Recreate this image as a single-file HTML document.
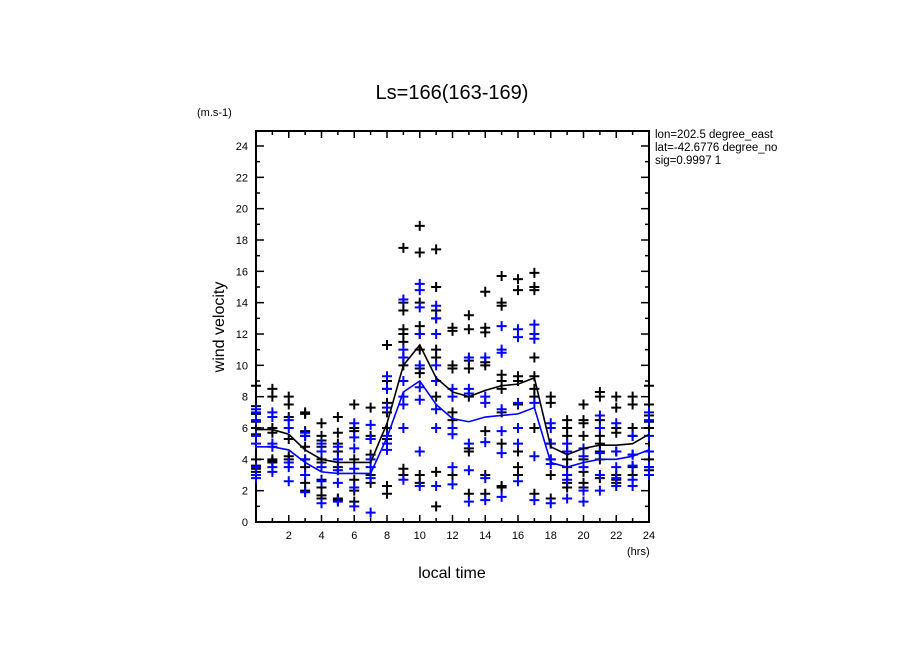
<!DOCTYPE html>
<html><head><meta charset="utf-8"><style>
body{margin:0;background:#fff;width:904px;height:654px;overflow:hidden}
svg{display:block;font-family:"Liberation Sans",sans-serif}
</style></head><body>
<svg id="chart" width="904" height="654">
<text x="452" y="99" text-anchor="middle" font-size="20">Ls=166(163-169)</text>
<text x="197" y="116" font-size="11">(m.s-1)</text>
<text x="224" y="327" font-size="16" text-anchor="middle" transform="rotate(-90 224 327)">wind velocity</text>
<text x="452" y="578" font-size="16" text-anchor="middle">local time</text>
<text x="627" y="555" font-size="11">(hrs)</text>
<svg x="655" y="126" width="123" height="50" overflow="hidden">
<text x="0" y="12" font-size="11.5">lon=202.5 degree_east</text>
<text x="0" y="25" font-size="11.5">lat=-42.6776 degree_north</text>
<text x="0" y="38" font-size="11.5">sig=0.9997 1</text>
</svg>
<g id="axes"></g><g id="marks"></g>
</svg>
<script>
const hours=[0,1,2,3,4,5,6,7,8,9,10,11,12,13,14,15,16,17,18,19,20,21,22,23,24];
const blackMean=[5.9,5.9,5.6,4.6,4.0,3.8,3.8,3.8,6.3,10.0,11.3,9.2,8.3,8.0,8.4,8.7,8.8,9.2,4.8,4.3,4.7,4.9,4.9,5.0,5.6];
const blueMean=[4.8,4.8,4.6,3.8,3.2,3.1,3.1,3.1,5.4,8.3,9.0,7.5,6.6,6.4,6.7,6.8,6.9,7.3,3.8,3.5,3.8,4.0,4.0,4.2,4.6];
const blackPts=[[8.7,7.4,6.9,6.4,6.0,5.6,4.0,3.6,3.4,3.2],[8.5,8.0,6.0,5.7,4.0,3.8,3.9],[8.0,7.5,6.7,5.3,4.2,4.0],[7.0,6.9,5.8,5.5,4.8,4.0,3.5,2.5,2.0],[6.3,5.5,5.2,4.8,4.0,3.8,2.7,2.2,1.7,1.5],[6.7,5.7,5.0,4.5,3.5,1.5,1.4],[7.5,6.0,5.8,4.0,2.7,2.0,1.3],[7.3,5.5,5.3,4.3,3.0,2.5],[11.3,9.0,8.5,7.6,7.0,6.0,5.3,2.3,1.8],[17.5,14.0,13.5,12.3,12.0,11.5,10.5,10.0,3.4,3.0],[18.9,17.2,14.0,12.5,12.0,11.0,9.8,9.5,3.0,2.5],[17.4,15.0,13.5,13.0,11.0,10.5,8.0,3.2,1.0],[12.4,12.2,10.0,9.8,7.0,6.5,3.0],[13.2,12.3,10.3,9.8,8.0,4.7,4.5,1.8],[14.7,12.4,12.1,10.2,10.0,5.8,3.0,1.8],[15.7,14.0,13.8,9.4,9.0,8.5,7.0,5.0,2.3,2.2],[15.5,14.8,9.3,9.0,7.5,6.0,4.5,3.5,3.0],[15.9,15.0,14.8,10.5,9.3,8.5,8.0,6.0,1.8],[8.0,7.6,5.0,4.0,3.0,1.5],[6.5,6.0,5.5,4.5,4.0,3.5,2.5,2.2],[7.5,6.5,6.3,5.5,4.0,3.2,2.5,2.2],[8.3,8.0,6.5,5.5,5.0,4.5,4.0,2.8],[8.0,7.3,6.0,5.7,4.5,3.0,2.7,2.5],[8.0,7.5,6.0,5.5,4.3,3.5,3.0],[8.7,7.5,6.8,6.4,6.0,4.0,3.5,3.3]];
const bluePts=[[7.2,7.0,6.5,5.5,5.0,3.5,3.0,2.8],[7.0,6.7,5.0,4.8,3.5,3.2],[6.5,6.0,3.8,3.5,2.6],[5.7,5.5,4.0,3.0,1.9],[5.0,4.5,3.5,2.6,1.2],[4.8,4.0,3.3,2.5,1.3],[6.3,5.4,4.7,3.4,2.2,1.0],[6.2,5.3,4.0,3.5,2.8,0.6],[9.3,8.5,7.3,5.5,5.0,4.6],[14.2,11.0,10.5,9.0,8.0,7.5,6.0,2.7],[15.2,14.8,13.7,12.0,10.0,8.6,7.8,4.5,2.3],[13.8,13.0,12.0,10.0,9.0,7.2,6.0,2.3],[8.5,8.0,6.0,5.6,3.5,2.4],[10.5,8.5,8.2,5.0,3.3,1.3],[10.5,8.0,7.6,5.1,2.8,1.4],[12.5,11.0,10.8,7.2,5.8,4.4,1.6],[12.3,11.8,7.6,6.0,5.0,2.6],[12.6,12.0,11.7,7.6,4.2,1.4],[6.3,6.0,5.0,4.0,3.7,1.2],[5.0,4.5,3.0,2.7,1.5],[4.7,4.2,3.5,2.0,1.3],[6.8,6.0,4.4,3.0,2.0],[6.3,4.5,3.5,2.8,2.3],[5.5,4.3,3.6,2.7,2.3],[7.0,6.5,5.5,4.5,3.5,3.0]];
const xTickLabels=[2,4,6,8,10,12,14,16,18,20,22,24];
const yTickLabels=[0,2,4,6,8,10,12,14,16,18,20,22,24];
const L=256,R=649,T=131,B=522;
const xs=h=>L+(R-L)*h/24;
const ys=v=>B-(B-146)*v/24;
const NS='http://www.w3.org/2000/svg';
function mk(tag,attrs,parent){const e=document.createElementNS(NS,tag);for(const k in attrs)e.setAttribute(k,attrs[k]);parent.appendChild(e);return e;}
const ax=document.getElementById('axes'),mg=document.getElementById('marks');
const frame=mk('rect',{x:L,y:T,width:R-L,height:B-T,fill:'none',stroke:'#000','stroke-width':2},ax);


for(let h=1;h<=24;h++){const len=h%2===0?7:4;
 const t=mk('line',{x1:xs(h),x2:xs(h),y1:B,y2:B-len,stroke:'#000','stroke-width':1.5},ax);
 
 
 const t2=mk('line',{x1:xs(h),x2:xs(h),y1:T,y2:T+len,stroke:'#000','stroke-width':1.5},ax);
 
 }
for(let v=1;v<=24;v++){const len=v%2===0?8:4;
 const t=mk('line',{x1:L,x2:L+len,y1:ys(v),y2:ys(v),stroke:'#000','stroke-width':1.5},ax);
 
 
 const t2=mk('line',{x1:R,x2:R-len,y1:ys(v),y2:ys(v),stroke:'#000','stroke-width':1.5},ax);
 
 }
xTickLabels.forEach(h=>{const t=mk('text',{x:xs(h),y:B+17,'font-size':11,'text-anchor':'middle'},ax);t.textContent=h;
 
 });
yTickLabels.forEach(v=>{const t=mk('text',{x:L-8,y:ys(v)+4,'font-size':11,'text-anchor':'end'},ax);t.textContent=v;
 
 });
function cross(h,v,c,name){const g=mk('path',{d:`M${xs(h)-5},${ys(v)}h10M${xs(h)},${ys(v)-5}v10`,stroke:c,'stroke-width':2,fill:'none'},mg);
 
 }
hours.forEach((h,i)=>{blackPts[i].forEach(v=>cross(h,v,'#000','black-point'));bluePts[i].forEach(v=>cross(h,v,'#0000ff','blue-point'));});
const bl=mk('polyline',{points:hours.map((h,i)=>xs(h)+','+ys(blackMean[i])).join(' '),fill:'none',stroke:'#000','stroke-width':1.6},mg);


const bu=mk('polyline',{points:hours.map((h,i)=>xs(h)+','+ys(blueMean[i])).join(' '),fill:'none',stroke:'#0000ff','stroke-width':1.6},mg);


</script>
</body></html>
